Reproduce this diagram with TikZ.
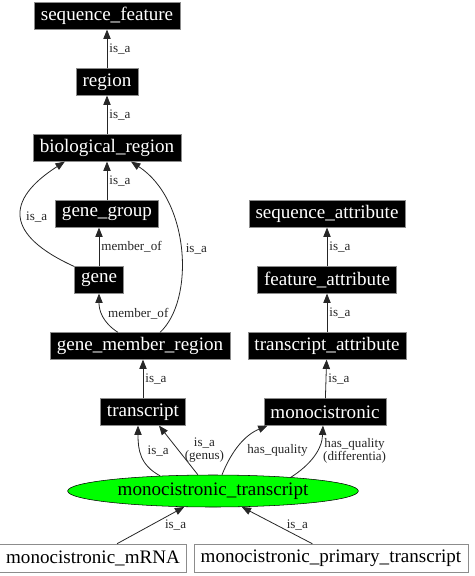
\documentclass[tikz,border=0pt]{standalone}
\usepackage{fontspec}
\setmainfont{Liberation Serif}
\usetikzlibrary{shapes.geometric, arrows.meta, positioning}

\begin{document}
\begin{tikzpicture}[
    x=0.75pt, y=-0.75pt,
    every node/.style={font=\fontsize{14.3}{16}\selectfont},
    term/.style={rectangle, draw=black!45, fill=black, text=white, minimum height=20pt, inner xsep=5pt, inner ysep=0pt},
    leaf/.style={rectangle, draw=black!45, fill=white, minimum height=21pt, inner xsep=5pt, inner ysep=0pt},
    focus/.style={ellipse, draw=black, fill=green, minimum width=218pt, minimum height=24pt, inner sep=0pt},
    rel/.style={font=\fontsize{9.8}{9.5}\selectfont, inner sep=1.5pt, align=center},
    arrow/.style={-{Triangle[length=7pt, width=5.5pt]}, line width=0.6pt, black!85}
]
\useasboundingbox (0,0) rectangle (475,576);

% sequence_feature branch
\node[term] (seqfeat) at (107,16) {sequence\_feature};
\node[term] (region) at (107,82) {region};
\node[term] (bioregion) at (107,148) {biological\_region};
\node[term] (genegroup) at (107,214) {gene\_group};
\node[term] (gene) at (99,280) {gene};
\node[term] (gmr) at (140,346) {gene\_member\_region};
\node[term] (transcript) at (143,412) {transcript};

% sequence_attribute branch
\node[term] (seqattr) at (327,214) {sequence\_attribute};
\node[term] (featattr) at (327,280) {feature\_attribute};
\node[term] (trattr) at (327,346) {transcript\_attribute};
\node[term] (mono) at (325,412) {monocistronic};

\node[focus] (montr) at (213,491) {monocistronic\_transcript};
\node[leaf] (mrna) at (93,558) {monocistronic\_mRNA};
\node[leaf] (primary) at (331,558) {monocistronic\_primary\_transcript};

\draw[arrow] (region) -- node[rel, right] {is\_a} (seqfeat);
\draw[arrow] (bioregion) -- node[rel, right] {is\_a} (region);
\draw[arrow] (genegroup) -- node[rel, right] {is\_a} (bioregion);
\draw[arrow] (gene.north west) .. controls (5,235) and (5,200) .. node[rel, right=2pt, pos=0.5] {is\_a} ([xshift=24pt]bioregion.south west);
\draw[arrow] ([xshift=15pt]gmr.north) .. controls (195,300) and (190,200) .. node[rel, right=2pt, pos=0.5] {is\_a} ([xshift=18pt]bioregion.south);
\draw[arrow] (gene.north) -- node[rel, right] {member\_of} (gene.north |- genegroup.south);
\draw[arrow] ([xshift=-16.5pt]gmr.north) .. controls (102,322) and (99,310) .. node[rel, right=3pt, pos=0.55] {member\_of} (gene.south);
\draw[arrow] (transcript) -- node[rel, right] {is\_a} (transcript.north |- gmr.south);

\draw[arrow] (mono) -- node[rel, right] {is\_a} (trattr);
\draw[arrow] (trattr) -- node[rel, right] {is\_a} (featattr);
\draw[arrow] (featattr) -- node[rel, right] {is\_a} (seqattr);

% links of the focus term
\draw[arrow] (montr.164.5) .. controls (140,465) and (138,450) .. node[rel, right=4pt, pos=0.6] {is\_a} ([xshift=-3.75pt]transcript.south);
\draw[arrow] (montr.133) -- node[rel, right=3pt] {is\_a\\(genus)} ([xshift=12pt]transcript.south);
\draw[arrow] (montr.61) .. controls (232,450) and (245,435) .. node[rel, right=7.5pt, pos=0.38] {has\_quality} ([xshift=3pt]mono.south west);
\draw[arrow] (montr.10.5) .. controls (310,465) and (322,450) .. node[rel, right=3pt, pos=0.6] {has\_quality\\(differentia)} ([xshift=-1.5pt]mono.south);
\draw[arrow] ([xshift=18pt]mrna.north) -- node[rel, right=9pt] {is\_a} (montr.209);
\draw[arrow] ([xshift=-14pt]primary.north) -- node[rel, right=5.5pt] {is\_a} (montr.331);

\end{tikzpicture}
\end{document}
